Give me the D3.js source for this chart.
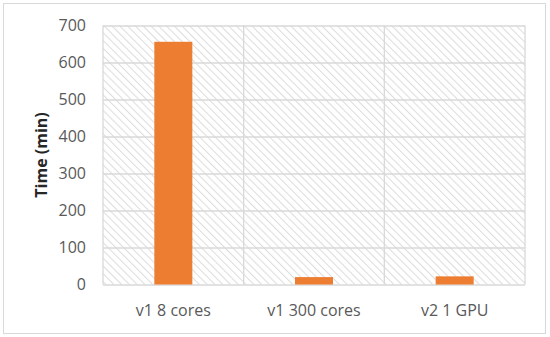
<!DOCTYPE html>
<html>
<head>
<meta charset="utf-8">
<style>
  body { margin: 0; background: #fff; font-family: "Open Sans", "Liberation Sans", sans-serif; }
</style>
<script src="https://cdn.jsdelivr.net/npm/d3@7"></script>
</head>
<body>
<div id="chart"></div>
<script>
// data
var categories = ["v1 8 cores", "v1 300 cores", "v2 1 GPU"];
var times = [656, 20, 22];
var yTicks = [0, 100, 200, 300, 400, 500, 600, 700];

var width = 550, height = 337;
var margin = {top: 25.5, right: 25, bottom: 52.5, left: 103};
var w = width - margin.left - margin.right,
    h = height - margin.top - margin.bottom;

var svg = d3.select("#chart").append("svg")
    .attr("width", width)
    .attr("height", height);

// hatch pattern for plot area
var defs = svg.append("defs");
var pat = defs.append("pattern")
    .attr("id", "hatch")
    .attr("patternUnits", "userSpaceOnUse")
    .attr("width", 5.5)
    .attr("height", 5.5)
    .attr("patternTransform", "rotate(-45)");
pat.append("rect").attr("width", 5.5).attr("height", 5.5).attr("fill", "#fff");
pat.append("line")
    .attr("x1", 0).attr("y1", 0).attr("x2", 0).attr("y2", 5.5)
    .attr("stroke", "#dcdcdc").attr("stroke-width", 2);

// outer chart border
svg.append("rect")
    .attr("x", 3.5).attr("y", 3.5)
    .attr("width", 542).attr("height", 330)
    .attr("fill", "#fff")
    .attr("stroke", "#d9d9d9");

var g = svg.append("g").attr("transform", "translate(" + margin.left + "," + margin.top + ")");

var x = d3.scaleBand().domain(categories).range([0, w]).paddingInner(0).paddingOuter(0);
var y = d3.scaleLinear().domain([0, 700]).range([h, 0]);

g.append("rect")
    .attr("width", w).attr("height", h)
    .attr("fill", "url(#hatch)");

// horizontal gridlines
g.selectAll(".hgrid").data(yTicks).enter().append("line")
    .attr("x1", 0).attr("x2", w)
    .attr("y1", function (d) { return Math.round(y(d)) + 0.5; })
    .attr("y2", function (d) { return Math.round(y(d)) + 0.5; })
    .attr("stroke", "#d9d9d9").attr("stroke-width", 1.3);

// vertical gridlines between categories
var vlines = [0].concat(categories.map(function (c) { return x(c) + x.bandwidth(); }));
g.selectAll(".vgrid").data(vlines).enter().append("line")
    .attr("x1", function (d) { return d; }).attr("x2", function (d) { return d; })
    .attr("y1", 0).attr("y2", h)
    .attr("stroke", "#d9d9d9").attr("stroke-width", 1.3);

// bars
var barW = 38;
g.selectAll(".bar").data(times).enter().append("rect")
    .attr("x", function (d, i) { return x(categories[i]) + x.bandwidth() / 2 - barW / 2; })
    .attr("y", function (d) { return y(d); })
    .attr("width", barW)
    .attr("height", function (d) { return h - y(d); })
    .attr("fill", "#ed7d31");

// y tick labels
g.selectAll(".ylab").data(yTicks).enter().append("text")
    .attr("x", -17)
    .attr("y", function (d) { return y(d); })
    .attr("dy", "0.35em")
    .attr("text-anchor", "end")
    .attr("fill", "#595959")
    .style("font-size", "16px")
    .text(function (d) { return d; });

// x labels
g.selectAll(".xlab").data(categories).enter().append("text")
    .attr("x", function (d) { return x(d) + x.bandwidth() / 2; })
    .attr("y", h + 31)
    .attr("text-anchor", "middle")
    .attr("fill", "#595959")
    .style("font-size", "16px")
    .text(function (d) { return d; });

// y axis title
svg.append("text")
    .attr("transform", "translate(47," + (margin.top + h / 2) + ") rotate(-90)")
    .attr("text-anchor", "middle")
    .attr("fill", "#262626")
    .style("font-size", "16px")
    .style("font-weight", "bold")
    .text("Time (min)");
</script>
</body>
</html>
